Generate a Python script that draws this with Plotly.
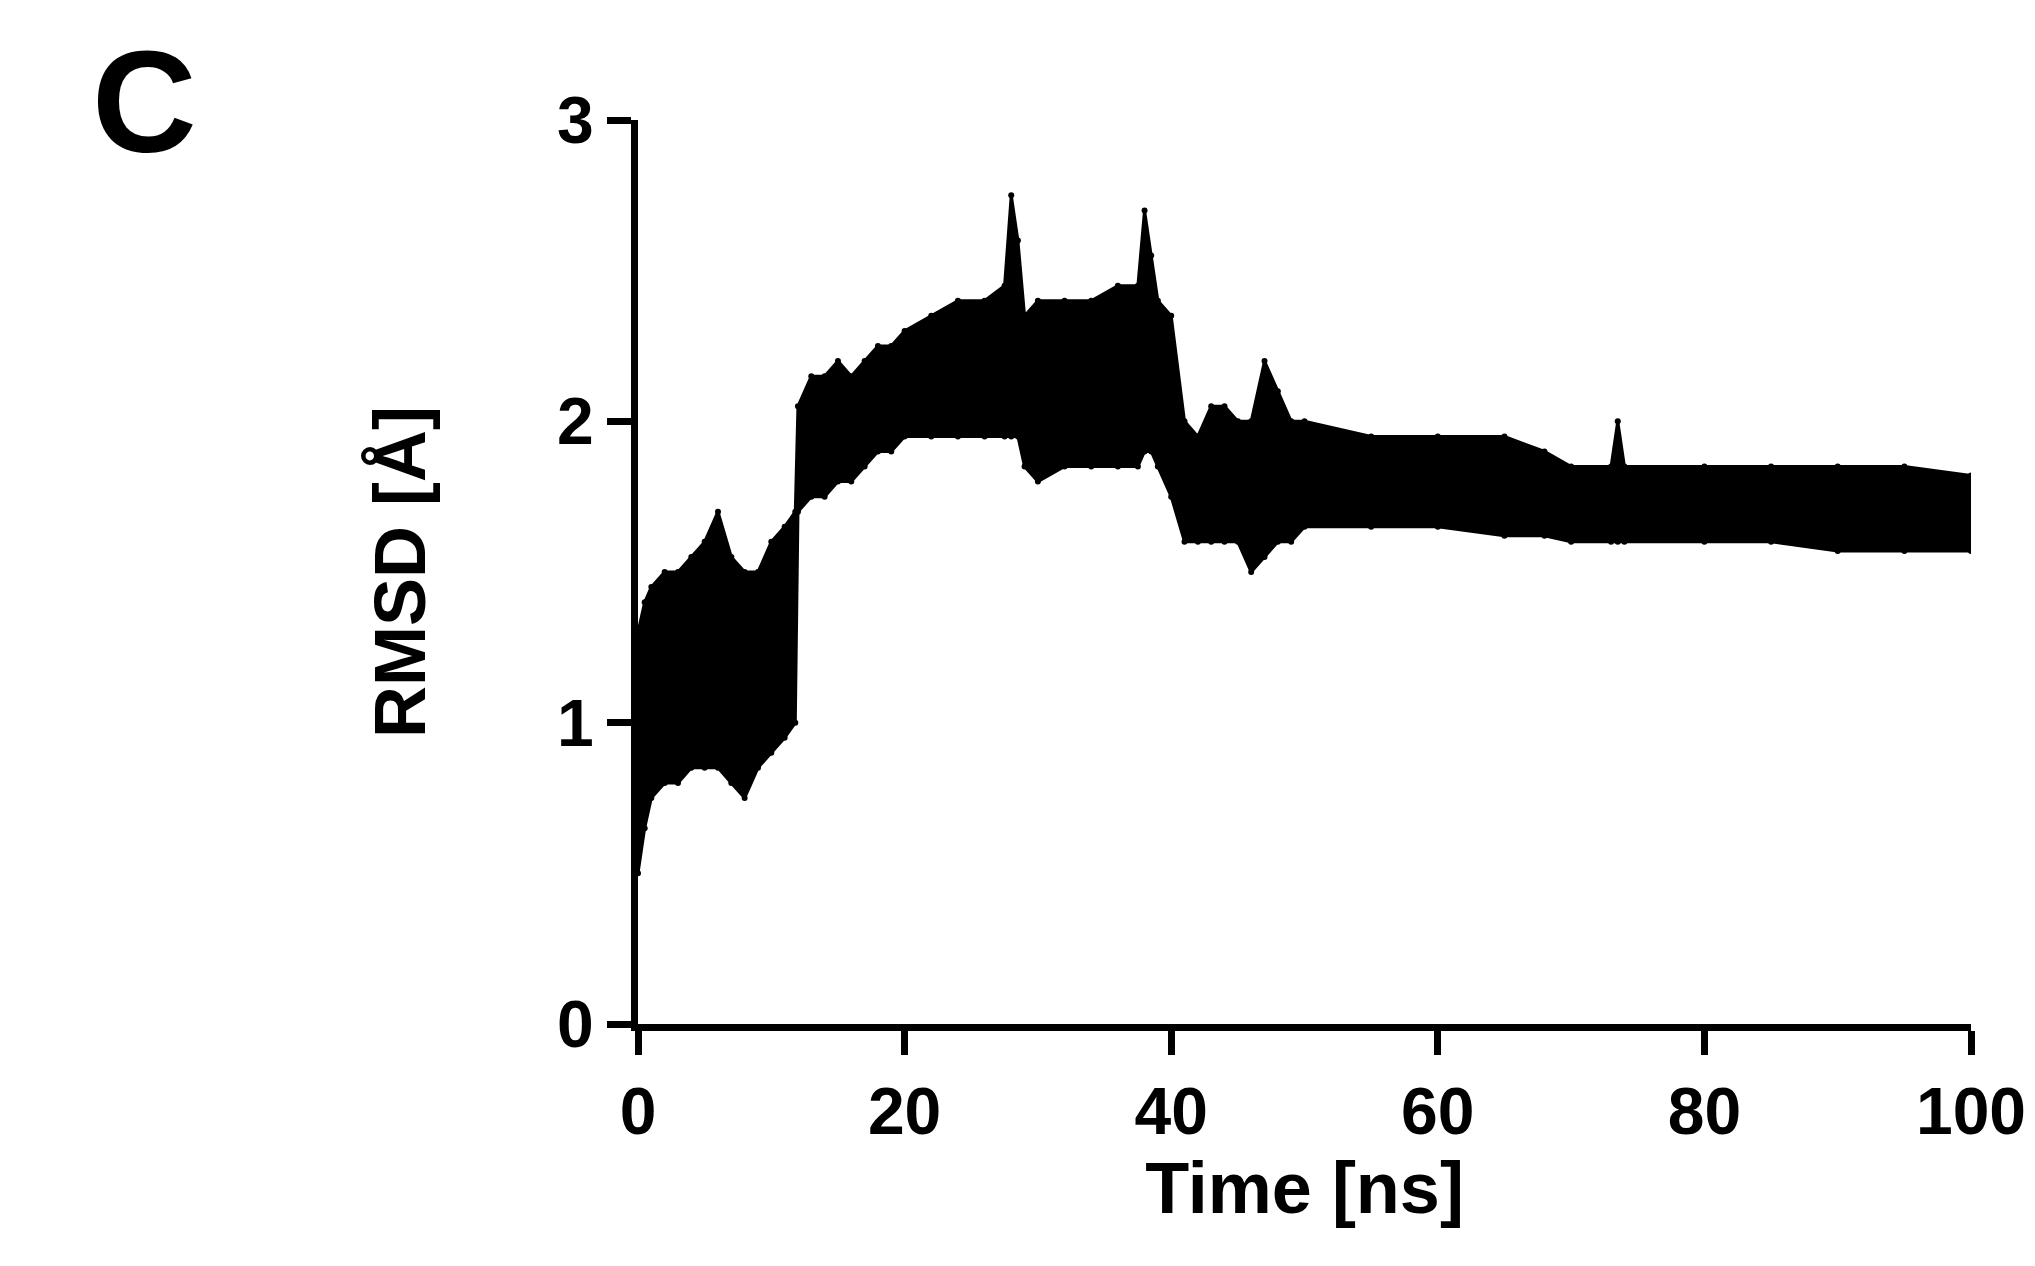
import plotly.graph_objects as go

# RMSD envelope (time in ns, lower / upper RMSD in Angstrom)
time_ns = [0, 0.5, 1, 2, 3, 4, 5, 6, 7, 8, 9, 10, 11, 11.8, 12, 13, 14, 15, 16, 17, 18, 19, 20,
           22, 24, 26, 27.5, 28, 28.5, 29, 30, 32, 34, 36, 37.5, 38, 38.5, 39, 40, 41, 42, 43,
           44, 45, 46, 47, 48, 49, 50, 55, 60, 65, 68, 70, 73, 73.5, 74, 80, 85, 90, 95, 100]
rmsd_low = [0.5, 0.65, 0.75, 0.8, 0.8, 0.85, 0.85, 0.85, 0.8, 0.75, 0.85, 0.9, 0.95, 1.0, 1.7,
            1.75, 1.75, 1.8, 1.8, 1.85, 1.9, 1.9, 1.95, 1.95, 1.95, 1.95, 1.95, 1.95, 1.95,
            1.85, 1.8, 1.85, 1.85, 1.85, 1.85, 1.9, 1.9, 1.85, 1.75, 1.6, 1.6, 1.6, 1.6, 1.6,
            1.5, 1.55, 1.6, 1.6, 1.65, 1.65, 1.65, 1.62, 1.62, 1.6, 1.6, 1.6, 1.6, 1.6, 1.6,
            1.57, 1.57, 1.57]
rmsd_high = [1.3, 1.4, 1.45, 1.5, 1.5, 1.55, 1.6, 1.7, 1.55, 1.5, 1.5, 1.6, 1.65, 1.7, 2.05,
             2.15, 2.15, 2.2, 2.15, 2.2, 2.25, 2.25, 2.3, 2.35, 2.4, 2.4, 2.45, 2.75, 2.6,
             2.35, 2.4, 2.4, 2.4, 2.45, 2.45, 2.7, 2.55, 2.4, 2.35, 2.0, 1.95, 2.05, 2.05, 2.0,
             2.0, 2.2, 2.1, 2.0, 2.0, 1.95, 1.95, 1.95, 1.9, 1.85, 1.85, 2.0, 1.85, 1.85, 1.85,
             1.85, 1.85, 1.82]

fig = go.Figure()
fig.add_trace(go.Scatter(x=time_ns, y=rmsd_low, mode="lines", line=dict(color="black", width=3)))
fig.add_trace(go.Scatter(x=time_ns, y=rmsd_high, mode="lines+markers", fill="tonexty",
                         fillcolor="black", line=dict(color="black", width=3),
                         marker=dict(size=6, color="black")))
fig.add_trace(go.Scatter(x=time_ns, y=rmsd_low, mode="markers", marker=dict(size=6, color="black")))

font = dict(family="Liberation Sans", color="black", size=72)
axis = dict(showline=True, linewidth=7, linecolor="black", ticks="outside", ticklen=24,
            tickwidth=7, tickcolor="black", showgrid=False, zeroline=False,
            tickfont=dict(family="Liberation Sans", color="black", size=66),
            tickprefix="<b>", ticksuffix="</b>")
fig.update_layout(
    width=2035, height=1266, showlegend=False, plot_bgcolor="white", paper_bgcolor="white",
    margin=dict(l=630, r=72, t=112, b=250),
    xaxis=dict(axis, range=[0, 100], dtick=20,
               title=dict(text="<b>Time [ns]</b>", font=font, standoff=10)),
    yaxis=dict(axis, range=[0, 3], dtick=1,
               title=dict(text="<b>RMSD [Å]</b>", font=font, standoff=110)),
    annotations=[dict(text="<b>C</b>", x=-0.37, y=1.02, xref="paper", yref="paper",
                      xanchor="center", yanchor="middle", showarrow=False,
                      font=dict(family="Liberation Sans", size=145, color="black"))],
)
fig.write_html("out.html")
